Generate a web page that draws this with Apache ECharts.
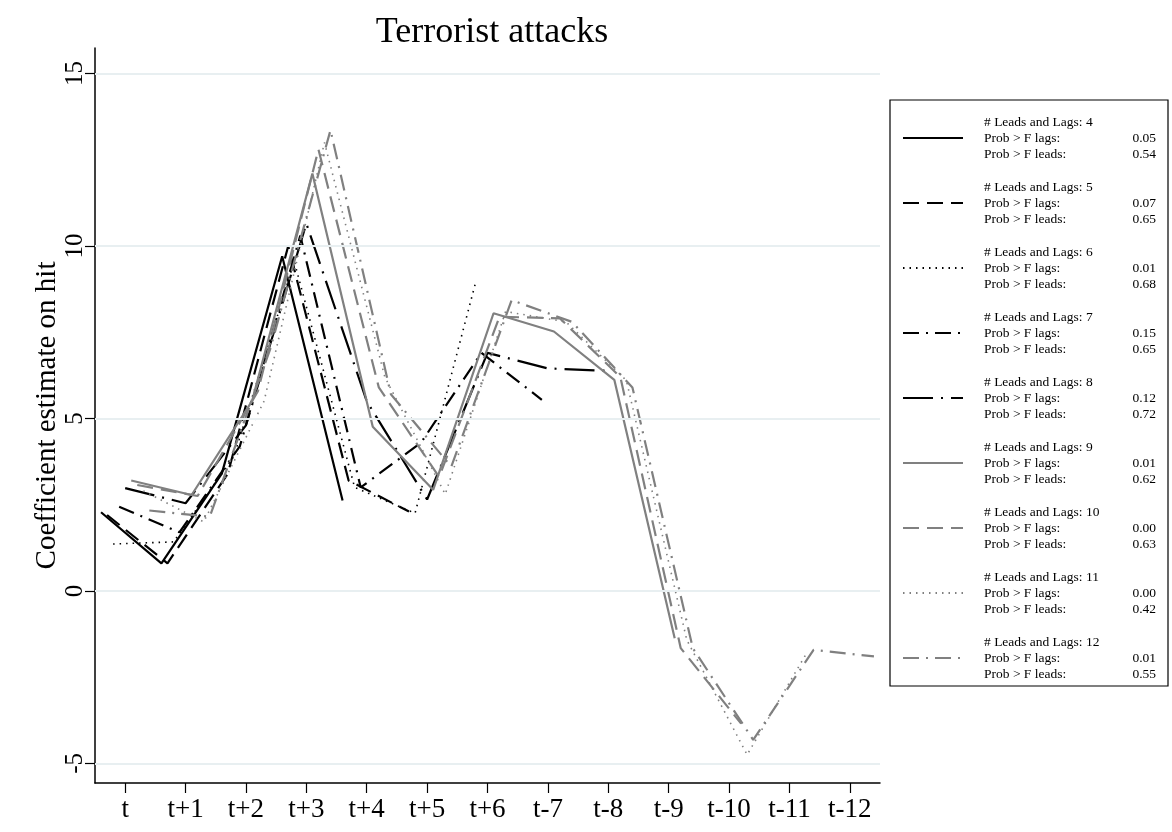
<!DOCTYPE html>
<html>
<head>
<meta charset="utf-8">
<script src="https://cdn.jsdelivr.net/npm/echarts@6/dist/echarts.min.js"></script>
<style>
html,body{margin:0;padding:0;background:#fff;}
#chart{width:1172px;height:832px;}
</style>
</head>
<body>
<div id="chart"></div>
<script>
// ---- data ----
const xLabels = ['t','t+1','t+2','t+3','t+4','t+5','t+6','t-7','t-8','t-9','t-10','t-11','t-12'];
const yTicks = [-5, 0, 5, 10, 15];
const leadsLags = [4, 5, 6, 7, 8, 9, 10, 11, 12];
const probLags  = ['0.05','0.07','0.01','0.15','0.12','0.01','0.00','0.00','0.01'];
const probLeads = ['0.54','0.65','0.68','0.65','0.72','0.62','0.63','0.42','0.55'];
// horizontal offset of each model's points (in category units)
const xOffsets = [-0.4, -0.3, -0.2, -0.1, 0.0, 0.1, 0.2, 0.3, 0.4];

const ll4  = [2.28, 0.80, 3.40, 9.70, 2.62];
const ll5  = [2.20, 0.80, 3.40, 10.00, 3.20, 2.30];
const ll6  = [1.36, 1.42, 3.90, 9.55, 3.00, 2.25, 8.92];
const ll7  = [2.44, 1.70, 4.20, 10.30, 3.00, 4.30, 6.90, 5.54];
const ll8  = [2.98, 2.54, 4.80, 10.65, 5.50, 2.65, 6.90, 6.45, 6.38];
const ll9  = [3.20, 2.78, 5.50, 12.10, 4.76, 2.93, 8.05, 7.52, 6.12, -1.37];
const ll10 = [3.07, 2.75, 5.80, 12.80, 5.90, 3.30, 7.95, 7.90, 6.20, -1.66, -3.85];
const ll11 = [2.90, 2.00, 5.50, 13.00, 6.20, 2.80, 8.10, 7.80, 6.10, -1.42, -4.75, -1.76];
const ll12 = [2.33, 2.15, 7.00, 13.36, 5.70, 3.60, 8.43, 7.80, 5.90, -1.66, -4.32, -1.71, -1.90];

const seriesValues = [ll4, ll5, ll6, ll7, ll8, ll9, ll10, ll11, ll12];

// ---- styles ----
const BLACK = '#000000', GRAY = '#808080';
const styles = [
  {color: BLACK, type: 'solid', width: 2.2},
  {color: BLACK, type: [16, 8], width: 2.2},
  {color: BLACK, type: [1.5, 5], width: 1.6},
  {color: BLACK, type: [16, 7, 2, 7], width: 2.2},
  {color: BLACK, type: [30, 8, 2, 8], width: 2.2},
  {color: GRAY,  type: 'solid', width: 2.2},
  {color: GRAY,  type: [16, 8], width: 2.2},
  {color: GRAY,  type: [1.5, 5], width: 1.6},
  {color: GRAY,  type: [16, 7, 2, 7], width: 2.2}
];
const FONT = '"Liberation Serif", "DejaVu Serif", serif';

const names = leadsLags.map(n => 'LL' + n);

const series = seriesValues.map((vals, s) => ({
  name: names[s],
  type: 'line',
  xAxisIndex: 1,
  yAxisIndex: 0,
  symbol: 'none',
  z: 3,
  data: vals.map((v, i) => [i + xOffsets[s], v]),
  lineStyle: styles[s],
  itemStyle: {color: styles[s].color},
  emphasis: {disabled: true}
}));

// gridlines
series.unshift({
  name: 'grid',
  type: 'line',
  xAxisIndex: 1,
  yAxisIndex: 0,
  symbol: 'none',
  z: 1,
  data: [[0, null]],
  silent: true,
  markLine: {
    silent: true,
    symbol: ['none', 'none'],
    label: {show: false},
    lineStyle: {color: '#e8eff1', width: 2, type: 'solid'},
    data: yTicks.map(v => ({yAxis: v}))
  }
});

const option = {
  animation: false,
  backgroundColor: '#ffffff',
  textStyle: {fontFamily: FONT},
  title: {
    text: 'Terrorist attacks',
    left: 487, top: 10, textAlign: 'center',
    textStyle: {fontFamily: FONT, fontSize: 36, fontWeight: 'normal', color: '#000'}
  },
  grid: {left: 95, right: 292, top: 48, bottom: 49, containLabel: false},
  legend: {
    orient: 'vertical',
    left: 890, top: 100,
    data: names,
    padding: [14, 12, 4, 12],
    itemWidth: 60, itemHeight: 14,
    itemGap: 17,
    borderColor: '#000', borderWidth: 1.2,
    selectedMode: false,
    itemStyle: {opacity: 0},
    formatter: function (name) {
      const s = names.indexOf(name);
      return '{h|# Leads and Lags: ' + leadsLags[s] + '}\n' +
             '{l|Prob > F lags:}{v|' + probLags[s] + '}\n' +
             '{l|Prob > F leads:}{v|' + probLeads[s] + '}';
    },
    textStyle: {
      fontFamily: FONT, fontSize: 13.5, color: '#000', lineHeight: 16,
      padding: [0, 0, 0, 16],
      rich: {
        h: {fontFamily: FONT, fontSize: 13.5, lineHeight: 16, color: '#000'},
        l: {fontFamily: FONT, fontSize: 13.5, lineHeight: 16, width: 130, color: '#000'},
        v: {fontFamily: FONT, fontSize: 13.5, lineHeight: 16, width: 42, align: 'right', color: '#000'}
      }
    }
  },
  xAxis: [
    {
      type: 'category',
      data: xLabels,
      boundaryGap: true,
      axisLine: {show: true, onZero: false, lineStyle: {color: '#000', width: 1.5}},
      axisTick: {show: true, alignWithLabel: true, length: 10, lineStyle: {color: '#000', width: 1.2}},
      axisLabel: {fontFamily: FONT, fontSize: 27, color: '#000', margin: 13, interval: 0},
      splitLine: {show: false}
    },
    {
      type: 'value',
      min: -0.5, max: 12.5,
      show: false,
      axisLine: {onZero: false},
      splitLine: {show: false}
    }
  ],
  yAxis: {
    type: 'value',
    min: -5.57, max: 15.74,
    name: 'Coefficient estimate on hit',
    nameLocation: 'middle',
    nameGap: 33,
    nameMoveOverlap: false,
    nameRotate: 90,
    nameTextStyle: {fontFamily: FONT, fontSize: 29, color: '#000'},
    axisLine: {show: true, onZero: false, lineStyle: {color: '#000', width: 1.5}},
    axisTick: {show: true, length: 10, customValues: yTicks, lineStyle: {color: '#000', width: 1.2}},
    axisLabel: {show: true, customValues: yTicks, rotate: 90, fontFamily: FONT, fontSize: 25, color: '#000', margin: 7},
    splitLine: {show: false}
  },
  series: series
};

const chart = echarts.init(document.getElementById('chart'), null, {renderer: 'canvas'});
chart.setOption(option);
</script>
</body>
</html>
